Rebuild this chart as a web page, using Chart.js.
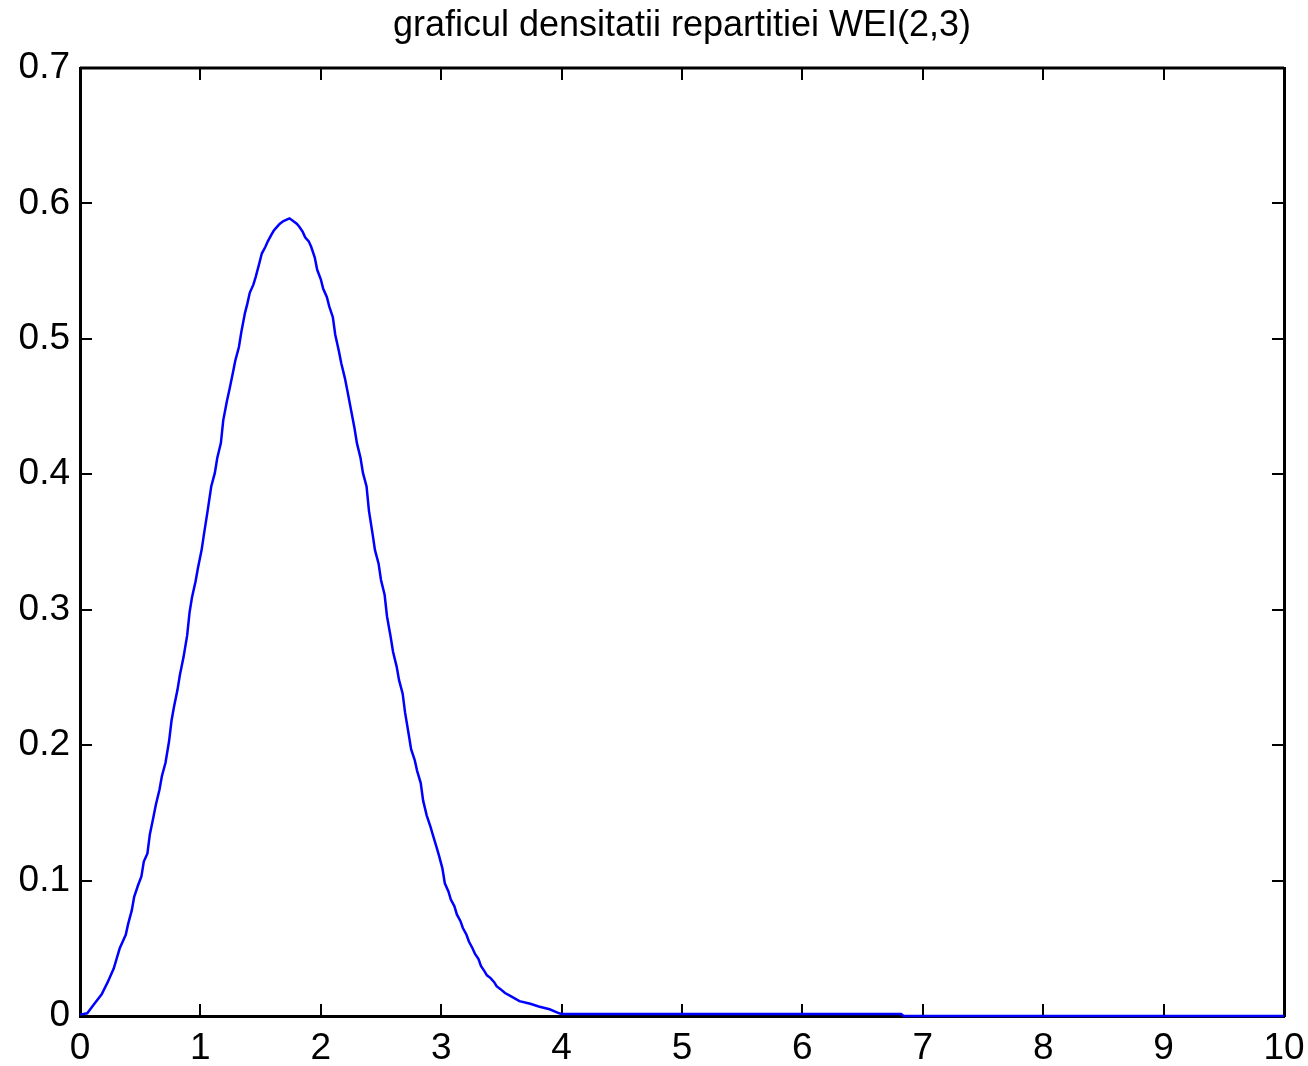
<!DOCTYPE html>
<html>
<head>
<meta charset="utf-8">
<title>graficul densitatii repartitiei WEI(2,3)</title>
<script src="https://cdn.jsdelivr.net/npm/chart.js@4.4.1/dist/chart.umd.min.js"></script>
<style>
  body { margin: 0; background: #fff; }
  canvas { display: block; }
</style>
</head>
<body>
<canvas id="chart" width="1308" height="1066"></canvas>
<script>
// values
const xValues = [
  0, 0.06, 0.11, 0.18, 0.23, 0.28, 0.31, 0.33, 0.38, 0.40, 0.43, 0.45, 0.48, 0.51, 0.53, 0.56, 0.58,
  0.61, 0.63, 0.66, 0.68, 0.71, 0.74, 0.76, 0.78, 0.81, 0.83, 0.86, 0.89, 0.91, 0.93, 0.96, 0.98,
  1.01, 1.03, 1.06, 1.09, 1.12, 1.14, 1.17, 1.19, 1.22, 1.24, 1.27, 1.29, 1.32, 1.34, 1.37, 1.39,
  1.41, 1.44, 1.46, 1.49, 1.51, 1.54, 1.56, 1.59, 1.61, 1.64, 1.66, 1.69, 1.74, 1.77, 1.80, 1.82,
  1.85, 1.87, 1.90, 1.92, 1.95, 1.97, 2.00, 2.02, 2.05, 2.07, 2.10, 2.12, 2.15, 2.17, 2.20, 2.22,
  2.25, 2.28, 2.30, 2.33, 2.35, 2.38, 2.40, 2.43, 2.45, 2.48, 2.50, 2.53, 2.55, 2.58, 2.60, 2.63,
  2.65, 2.68, 2.70, 2.73, 2.75, 2.78, 2.80, 2.83, 2.85, 2.88, 2.91, 2.93, 2.96, 2.98, 3.01, 3.03,
  3.06, 3.08, 3.11, 3.13, 3.16, 3.18, 3.21, 3.23, 3.26, 3.28, 3.31, 3.33, 3.36, 3.38, 3.41, 3.44,
  3.46, 3.49, 3.53, 3.57, 3.65, 3.74, 3.81, 3.90, 3.98, 4.00, 5.00, 6.00, 6.82, 6.84, 8.00, 10.00
];
const densityValues = [
  0.001, 0.002, 0.008, 0.016, 0.025, 0.035, 0.044, 0.050, 0.060, 0.068, 0.078, 0.088, 0.096, 0.103, 0.114, 0.120, 0.134,
  0.147, 0.156, 0.167, 0.177, 0.187, 0.203, 0.218, 0.228, 0.241, 0.252, 0.265, 0.281, 0.298, 0.309, 0.321, 0.331,
  0.344, 0.356, 0.373, 0.391, 0.401, 0.412, 0.423, 0.440, 0.454, 0.462, 0.475, 0.484, 0.494, 0.505, 0.519, 0.526,
  0.534, 0.540, 0.546, 0.556, 0.563, 0.568, 0.572, 0.577, 0.580, 0.583, 0.585, 0.587, 0.589, 0.587, 0.585, 0.583,
  0.579, 0.575, 0.572, 0.568, 0.560, 0.551, 0.544, 0.537, 0.531, 0.524, 0.516, 0.503, 0.491, 0.482, 0.471, 0.462,
  0.448, 0.434, 0.423, 0.412, 0.401, 0.391, 0.373, 0.356, 0.344, 0.334, 0.322, 0.311, 0.295, 0.280, 0.269, 0.258,
  0.248, 0.238, 0.224, 0.208, 0.197, 0.189, 0.181, 0.172, 0.159, 0.148, 0.140, 0.134, 0.125, 0.119, 0.109, 0.098,
  0.092, 0.086, 0.081, 0.075, 0.070, 0.065, 0.060, 0.055, 0.050, 0.046, 0.042, 0.037, 0.033, 0.030, 0.028, 0.025,
  0.022, 0.020, 0.017, 0.015, 0.011, 0.009, 0.007, 0.005, 0.002, 0.0015, 0.0015, 0.0015, 0.0015, 0, 0, 0
];

const chartTitle = 'graficul densitatii repartitiei WEI(2,3)';
const FONT = "'Liberation Sans', Arial, sans-serif";
const TICK = 12;

// matlab style ticks pointing inward on all four sides, plus the top edge of the box
const insideTicks = {
  id: 'insideTicks',
  beforeDatasetsDraw(chart) {
    const { ctx, chartArea: a, scales: { x, y } } = chart;
    ctx.save();
    ctx.strokeStyle = '#000';
    ctx.lineWidth = 2;
    ctx.beginPath();
    x.ticks.forEach(t => {
      const px = Math.round(x.getPixelForValue(t.value));
      ctx.moveTo(px, a.bottom);
      ctx.lineTo(px, a.bottom - TICK);
      ctx.moveTo(px, a.top);
      ctx.lineTo(px, a.top + TICK);
    });
    y.ticks.forEach(t => {
      const py = Math.round(y.getPixelForValue(t.value));
      ctx.moveTo(a.left, py);
      ctx.lineTo(a.left + TICK, py);
      ctx.moveTo(a.right, py);
      ctx.lineTo(a.right - TICK, py);
    });
    ctx.stroke();
    ctx.lineWidth = 3;
    ctx.beginPath();
    ctx.moveTo(a.left, a.top);
    ctx.lineTo(a.right, a.top);
    ctx.stroke();
    ctx.restore();
  }
};

const ctx = document.getElementById('chart').getContext('2d');
new Chart(ctx, {
  type: 'line',
  data: {
    datasets: [{
      data: xValues.map((v, i) => ({ x: v, y: densityValues[i] })),
      borderColor: '#0000ff',
      borderWidth: 2.5,
      pointRadius: 0,
      tension: 0,
      fill: false,
      clip: false
    }]
  },
  options: {
    responsive: false,
    animation: false,
    devicePixelRatio: 1,
    layout: { padding: 0 },
    plugins: {
      legend: { display: false },
      tooltip: { enabled: false },
      title: {
        display: true,
        fullSize: false,
        text: chartTitle,
        color: '#000',
        font: { family: FONT, size: 36, weight: 'normal', lineHeight: 1.2 },
        padding: { top: 4, bottom: 20.8 }
      }
    },
    scales: {
      x: {
        type: 'linear',
        min: 0,
        max: 10,
        grid: { drawOnChartArea: false, drawTicks: false },
        border: { color: '#000', width: 3 },
        ticks: {
          stepSize: 1,
          padding: 11,
          color: '#000',
          maxRotation: 0,
          font: { family: FONT, size: 37 }
        },
        // fixed height, and let the "10" label hang into the right margin
        afterFit: s => { s.height = 50; s.paddingRight = 0; s.paddingLeft = 0; }
      },
      y: {
        type: 'linear',
        min: 0,
        max: 0.7,
        grid: { drawOnChartArea: false, drawTicks: false },
        border: { color: '#000', width: 3 },
        ticks: {
          stepSize: 0.1,
          padding: 10,
          color: '#000',
          font: { family: FONT, size: 37 }
        },
        afterFit: s => { s.width = 80; }
      },
      yRight: {
        type: 'linear',
        position: 'right',
        min: 0,
        max: 0.7,
        grid: { drawOnChartArea: false, drawTicks: false },
        border: { color: '#000', width: 3 },
        ticks: { display: false },
        afterFit: s => { s.width = 24; }
      }
    }
  },
  plugins: [insideTicks]
});
</script>
</body>
</html>
